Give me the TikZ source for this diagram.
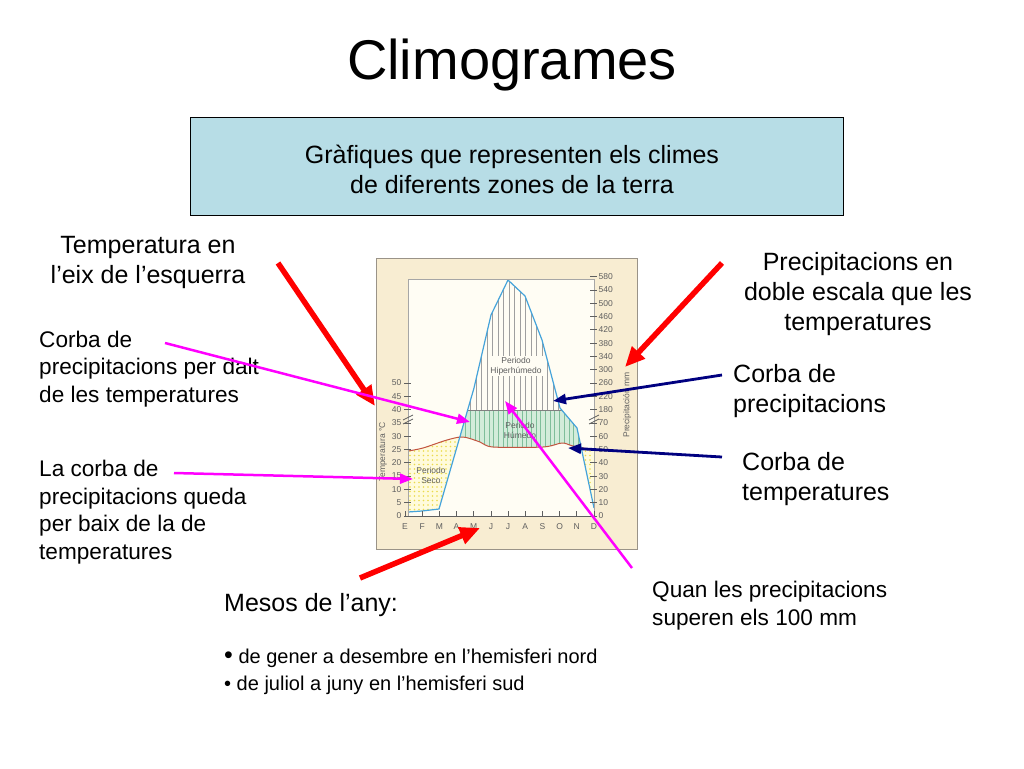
\documentclass[tikz,border=0pt]{standalone}
\usepackage{fontspec}
\setmainfont{Liberation Sans}
\usetikzlibrary{arrows.meta,calc,positioning}
\definecolor{boxblue}{HTML}{B7DDE6}
\definecolor{paper}{HTML}{F8EDD2}
\definecolor{paperedge}{HTML}{9A9388}
\definecolor{plotbg}{HTML}{FFFDF4}
\definecolor{raincol}{HTML}{45A3DA}
\definecolor{tempcol}{HTML}{C2543F}
\definecolor{humid}{HTML}{D3ECDA}
\definecolor{humidline}{HTML}{7FBE9A}
\definecolor{dry}{HTML}{FFFBDC}
\definecolor{dryspot}{HTML}{EBDB4C}
\definecolor{axisgray}{HTML}{5F5F5F}
\definecolor{arrownavy}{HTML}{000080}
\definecolor{arrowpink}{HTML}{FF00FF}
\definecolor{arrowred}{HTML}{FF0000}
\newcommand{\raincurve}{(408,512) -- (422,511) -- (439,509) -- (474,388) -- (491,315) -- (508,280) -- (525,296) -- (542,340) -- (560,408) -- (577,428) -- (594,508)}
\tikzset{
    bigtext/.style = {font=\fontsize{25}{30}\selectfont, inner sep=0pt, align=center},
    smalltext/.style = {font=\fontsize{22.6}{27.5}\selectfont, inner sep=0pt, align=left},
    chartlabel/.style = {font=\fontsize{8.5}{10}\selectfont, text=axisgray, inner sep=0.5pt, align=center},
    axisline/.style = {axisgray, line width=0.7pt},
    redarrow/.style = {-{Triangle[length=20pt,width=17pt]}, arrowred, line width=5.5pt},
    pinkarrow/.style = {-{Triangle[length=13pt,width=10pt]}, arrowpink, line width=2.5pt},
    bluearrow/.style = {-{Triangle[length=13pt,width=10pt]}, arrownavy, line width=2.8pt}
}
\begin{document}
\begin{tikzpicture}[x=1pt,y=-1pt]
    \useasboundingbox (0,0) rectangle (1024,768);

    \node[anchor=base, font=\fontsize{56}{60}\selectfont] (title) at (512,79) {Climogrames};
    \node[draw, fill=boxblue, bigtext, minimum width=653pt, minimum height=98pt] (defbox) at (516.5,166) {};
    \node[bigtext, anchor=base] (deftext) at (512,193) {Gràfiques que representen els climes\\de diferents zones de la terra};

    % climograma
    \draw[paperedge, fill=paper] (376,258) rectangle (637,549);
    \fill[plotbg] (408,279) rectangle (594,516);

    % periodo seco
    \begin{scope}
        \clip plot[smooth] coordinates {(408,451) (423,448) (447,440) (463,437) (480,442) (493,447) (543,447) (562,443) (573,446) (594,450)} -- (594,516) -- (408,516) -- cycle;
        \fill[dry] (408,430) rectangle (594,516);
        \foreach \dx in {410,414.5,...,594}
            \foreach \dy in {433,437.5,...,516}
                \fill[dryspot] (\dx,\dy) circle (0.9);
        \fill[plotbg] \raincurve -- (594,516) -- (408,516) -- cycle;
    \end{scope}
    % periodo humedo
    \begin{scope}
        \clip \raincurve -- (594,516) -- (408,516) -- cycle;
        \clip plot[smooth] coordinates {(408,451) (423,448) (447,440) (463,437) (480,442) (493,447) (543,447) (562,443) (573,446) (594,450)} -- (594,410) -- (408,410) -- cycle;
        \fill[humid] (408,405) rectangle (594,455);
        \foreach \hx in {409,413.7,...,594}
            \draw[humidline, line width=0.6pt] (\hx,405) -- (\hx,455);
    \end{scope}
    % periodo hiperhumedo
    \begin{scope}
        \clip \raincurve -- (594,516) -- (408,516) -- cycle;
        \clip (408,270) rectangle (594,410);
        \foreach \vx in {410,415.5,...,594}
            \draw[gray!75, line width=0.6pt] (\vx,275) -- (\vx,410);
        \draw[gray, line width=0.8pt] (408,410) -- (594,410);
    \end{scope}

    \node[chartlabel, fill=plotbg, inner sep=1.5pt] (hiper) at (516,366) {Periodo\\Hiperhúmedo};
    \node[chartlabel] (humedo) at (520,430) {Periodo\\Húmedo};
    \node[chartlabel] (seco) at (431,475) {Periodo\\Seco};

    \draw[tempcol, line width=1pt] plot[smooth] coordinates {(408,451) (423,448) (447,440) (463,437) (480,442) (493,447) (543,447) (562,443) (573,446) (594,450)};
    \draw[raincol, line width=1.2pt] \raincurve;

    % eixos
    \draw[black!35, line width=1pt] (408,516) -- (408,279) -- (594,279) -- (594,516);
    \draw[axisline] (408,516) -- (594,516);
    \foreach \lab [count=\k from 0] in {0,5,...,50} {
        \draw[axisline] (404,516-13.3*\k) -- (411,516-13.3*\k);
        \node[chartlabel, anchor=east] at (402,516-13.3*\k) {\lab};
    }
    \foreach \lab [count=\k from 0] in {0,10,20,30,40,50,60,70,180,220,260,300,340,380,420,460,500,540,580} {
        \draw[axisline] (590,516-13.3*\k) -- (597,516-13.3*\k);
        \node[chartlabel, anchor=west] at (598,516-13.3*\k) {\lab};
    }
    \foreach \bx in {408,594} {
        \draw[axisline] (\bx-5,420) -- (\bx+5,415);
        \draw[axisline] (\bx-5,424) -- (\bx+5,419);
    }
    \foreach \m [count=\i from 0] in {E,F,M,A,M,J,J,A,S,O,N,D} {
        \draw[axisline] (405+17.18*\i,511) -- (405+17.18*\i,516);
        \node[chartlabel] at (405+17.18*\i,527) {\m};
    }
    \node[chartlabel, rotate=90] (taxis) at (383,452) {Temperatura °C};
    \node[chartlabel, rotate=90] (paxis) at (627,405) {Precipitación mm};

    % textos
    \node[bigtext, anchor=base] (tleft) at (148,283) {Temperatura en\\l’eix de l’esquerra};
    \node[smalltext, anchor=base west] (above) at (39,402) {Corba de\\precipitacions per dalt\\de les temperatures};
    \node[smalltext, anchor=base west] (below) at (39,559) {La corba de\\precipitacions queda\\per baix de la de\\temperatures};
    \node[bigtext, anchor=base] (tright) at (858,330) {Precipitacions en\\doble escala que les\\temperatures};
    \node[bigtext, align=left, anchor=base west] (crain) at (733,412) {Corba de\\precipitacions};
    \node[bigtext, align=left, anchor=base west] (ctemp) at (742,500) {Corba de\\temperatures};
    \node[smalltext, anchor=base west] (over100) at (652,625) {Quan les precipitacions\\superen els 100 mm};
    \node[bigtext, anchor=base west] (months) at (224,611) {Mesos de l’any:};
    \node[anchor=base west, inner sep=0pt, font=\fontsize{20}{24}\selectfont] (north) at (224,663) {{\fontsize{25}{30}\selectfont •} de gener a desembre en l’hemisferi nord};
    \node[anchor=base west, inner sep=0pt, font=\fontsize{20}{24}\selectfont] (south) at (224,690) {• de juliol a juny en l’hemisferi sud};

    % fletxes
    \coordinate (r1) at (278,263);  \coordinate (tempaxis) at (375,406);
    \coordinate (r2) at (722,263);  \coordinate (rainaxis) at (625,367);
    \coordinate (r3) at (360,578);  \coordinate (monthaxis) at (480,528);
    \coordinate (p1) at (165,343);  \coordinate (wetzone) at (470,422);
    \coordinate (p2) at (174,473);  \coordinate (dryzone) at (413,479);
    \coordinate (p3) at (632,568);  \coordinate (hiperzone) at (505,401);
    \coordinate (n1) at (722,375);  \coordinate (raindot) at (553,401);
    \coordinate (n2) at (722,457);  \coordinate (tempdot) at (568,448);

    \path (r1) edge[redarrow] (tempaxis);
    \path (r2) edge[redarrow] (rainaxis);
    \path (r3) edge[redarrow] (monthaxis);
    \path (p1) edge[pinkarrow] (wetzone);
    \path (p2) edge[pinkarrow] (dryzone);
    \path (p3) edge[pinkarrow] (hiperzone);
    \path (n1) edge[bluearrow] (raindot);
    \path (n2) edge[bluearrow] (tempdot);
\end{tikzpicture}
\end{document}
